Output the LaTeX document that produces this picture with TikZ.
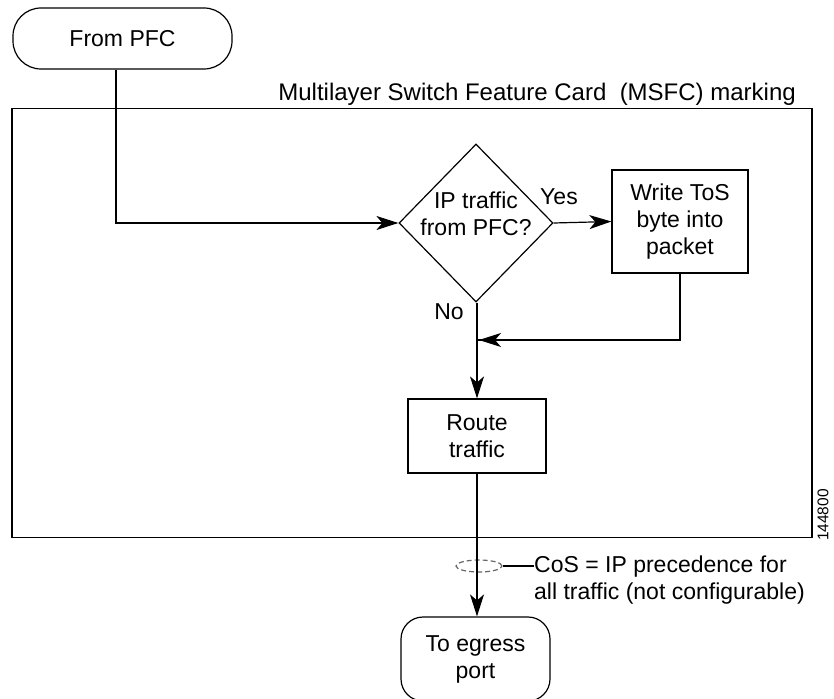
\documentclass[tikz,border=0pt]{standalone}
\usepackage{fontspec}
\setmainfont{Liberation Sans}
\usetikzlibrary{shapes.geometric,arrows.meta}
\begin{document}
\begin{tikzpicture}[x=1pt,y=-1pt,
  font=\fontsize{23}{27}\selectfont,
  ln/.style={line width=1.2pt, draw=black},
  arr/.style={ln, -{Stealth[length=22pt,width=14pt,inset=6pt]}},
  boxnode/.style={draw, line width=1.2pt, align=center, inner sep=0pt},
  termnode/.style={boxnode, rounded corners=28pt},
  lbl/.style={inner sep=0pt, align=center}]
\clip (0,0) rectangle (834,698);
% frame
\node[draw, line width=1.2pt, minimum width=800pt, minimum height=429pt, inner sep=0pt] (frame) at (412,323) {};
\node[lbl, anchor=base east, font=\fontsize{24}{28}\selectfont] (title) at (796,100) {Multilayer Switch Feature Card\ \ (MSFC) marking};
% nodes
\node[termnode, minimum width=219pt, minimum height=61pt] (pfc) at (122.5,38.5) {From PFC};
\node[draw, diamond, line width=1.2pt, minimum width=154pt, minimum height=158pt, inner sep=0pt] (dia) at (476,223) {};
\node[lbl] (diatext) at (476,214) {IP traffic\\from PFC?};
\node[boxnode, minimum width=136pt, minimum height=103pt] (tos) at (680,221.5) {Write ToS\\byte into\\packet};
\node[boxnode, minimum width=138pt, minimum height=74pt] (route) at (477,436) {Route\\traffic};
\node[termnode, rounded corners=22pt, minimum width=149pt, minimum height=84pt] (egress) at (475.5,659) {To egress\\port};
\node[lbl] (yes) at (559,197) {Yes};
\node[lbl] (no) at (449,312) {No};
\node[draw=black!60, dash pattern=on 5pt off 3pt, ellipse, line width=1.2pt, minimum width=46pt, minimum height=12pt, inner sep=0pt] (cosmark) at (479,566) {};
\node[lbl, anchor=west, align=left] (costext) at (534,580) {CoS = IP precedence for\\all traffic (not configurable)};
\node[lbl, rotate=90, font=\fontsize{15.5}{17}\selectfont] (fig) at (823,515) {144800};
% connectors
\coordinate (join) at (477,340);
\draw[arr] ([xshift=-6.5pt]pfc.south) |- (dia.west);
\draw[arr] (dia.east) -- (tos.west);
\draw[ln] (tos.south) |- (join);
\draw[arr] (tos.south |- join) -- ([xshift=2pt]join);
\draw[arr] (dia.south -| route.north) -- (route.north);
\draw[arr] (route.south) -- (route.south |- egress.north);
\draw[ln] (cosmark.east) -- (costext.west |- cosmark.east);
\end{tikzpicture}
\end{document}
